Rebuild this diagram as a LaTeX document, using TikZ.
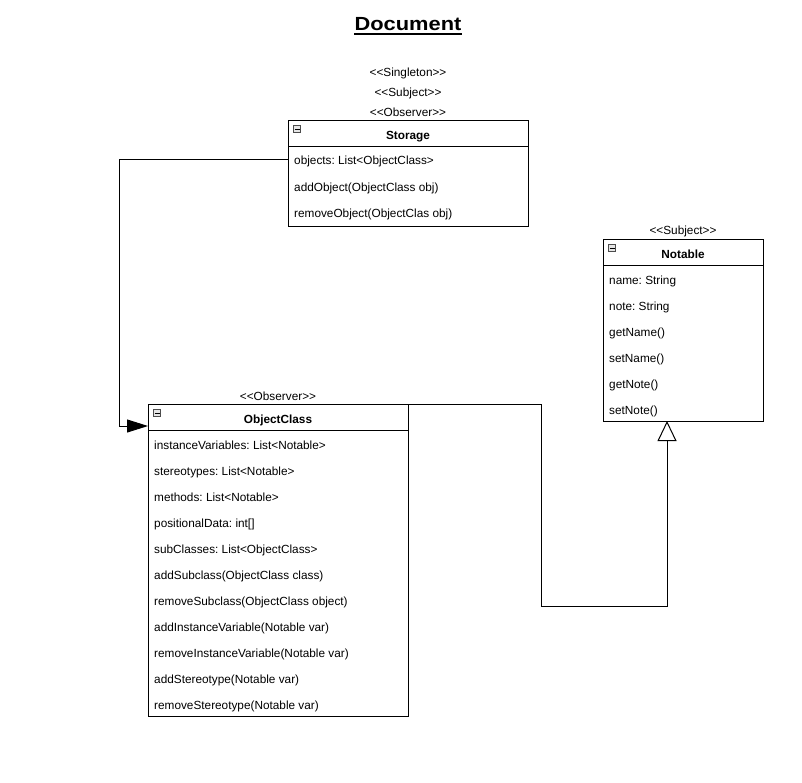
\documentclass[tikz,border=0pt]{standalone}
\usepackage{fontspec}
\setmainfont{Liberation Sans}
\usetikzlibrary{arrows.meta}
\newcommand{\dlt}{<\kern0pt<}
\newcommand{\dgt}{>\kern0pt>}
\begin{document}
\frenchspacing
\begin{tikzpicture}[x=1pt,y=-1pt,
  box/.style={draw=black, line width=1pt, fill=white, anchor=north west, inner sep=0pt},
  txt/.style={anchor=base west, inner sep=0pt, font=\fontsize{11.8}{14}\selectfont},
  ster/.style={anchor=base, inner sep=0pt, font=\fontsize{11.8}{14}\selectfont},
  ttl/.style={anchor=base, inner sep=0pt, font=\fontsize{11.8}{14}\selectfont\bfseries},
  icon/.style={draw=black!70, fill=black!10, line width=0.6pt, minimum size=7pt, inner sep=0pt},
  conn/.style={line width=1pt, draw=black}
]
\useasboundingbox (0,0) rectangle (802,782);
\fill[white] (0,0) rectangle (802,782);

% Title
\node[anchor=base, inner sep=0pt, font=\fontsize{19}{23}\selectfont\bfseries] (title) at (408,30) {\scalebox{1.15}[1]{Document}};
\draw[line width=1.6pt] ([yshift=-4pt]title.base west) -- ([yshift=-4pt]title.base east);

% Storage
\node[ster] (stS) at (408,76) {\dlt Singleton\dgt};
\node[ster] (stSu) at (408,96) {\dlt Subject\dgt};
\node[ster] (stO) at (408,116) {\dlt Observer\dgt};
\node[box, minimum width=240pt, minimum height=106pt] (storage) at (288,120) {};
\draw[line width=1pt] (288,146) -- (528,146);
\node[icon] (si) at (297,129) {};
\draw[line width=0.8pt] (294.5,129) -- (299.5,129);
\node[ttl] (storT) at (408,139) {Storage};
\node[txt] (s1) at (294,164) {objects: List<ObjectClass>};
\node[txt] (s2) at (294,191) {addObject(ObjectClass obj)};
\node[txt] (s3) at (294,217) {removeObject(ObjectClas obj)};

% Notable
\node[ster] (stN) at (683,234) {\dlt Subject\dgt};
\node[box, minimum width=160pt, minimum height=182pt] (notable) at (603,239) {};
\draw[line width=1pt] (603,265) -- (763,265);
\node[icon] (ni) at (612,248) {};
\draw[line width=0.8pt] (609.5,248) -- (614.5,248);
\node[ttl] (notT) at (683,258) {Notable};
\node[txt] (n1) at (609,284) {name: String};
\node[txt] (n2) at (609,310) {note: String};
\node[txt] (n3) at (609,336) {getName()};
\node[txt] (n4) at (609,362) {setName()};
\node[txt] (n5) at (609,388) {getNote()};
\node[txt] (n6) at (609,414) {setNote()};

% ObjectClass
\node[ster] (stOC) at (278,400) {\dlt Observer\dgt};
\node[box, minimum width=260pt, minimum height=312pt] (oc) at (148,404) {};
\draw[line width=1pt] (148,430) -- (408,430);
\node[icon] (oi) at (157,413) {};
\draw[line width=0.8pt] (154.5,413) -- (159.5,413);
\node[ttl] (ocT) at (278,423) {ObjectClass};
\node[txt] (o1) at (154,449) {instanceVariables: List<Notable>};
\node[txt] (o2) at (154,475) {stereotypes: List<Notable>};
\node[txt] (o3) at (154,501) {methods: List<Notable>};
\node[txt] (o4) at (154,527) {positionalData: int[]};
\node[txt] (o5) at (154,553) {subClasses: List<ObjectClass>};
\node[txt] (o6) at (154,579) {addSubclass(ObjectClass class)};
\node[txt] (o7) at (154,605) {removeSubclass(ObjectClass object)};
\node[txt] (o8) at (154,631) {addInstanceVariable(Notable var)};
\node[txt] (o9) at (154,657) {removeInstanceVariable(Notable var)};
\node[txt] (o10) at (154,683) {addStereotype(Notable var)};
\node[txt] (o11) at (154,709) {removeStereotype(Notable var)};

% Connectors
\coordinate (c0) at (288,159);
\coordinate (c1) at (119,159);
\coordinate (c2) at (119,426);
\coordinate (c3) at (148,426);
\draw[conn, -{Triangle[length=21pt,width=13pt]}] (c0) -- (c1) -- (c2) -- (c3);

\coordinate (d1) at (541,404);
\coordinate (d2) at (541,606);
\coordinate (d3) at (667,606);
\coordinate (d4) at (667,421);
\draw[conn, -{Triangle[open, length=20pt, width=19pt, fill=white]}] (oc.north east) -- (d1) -- (d2) -- (d3) -- (d4);
\end{tikzpicture}
\end{document}
